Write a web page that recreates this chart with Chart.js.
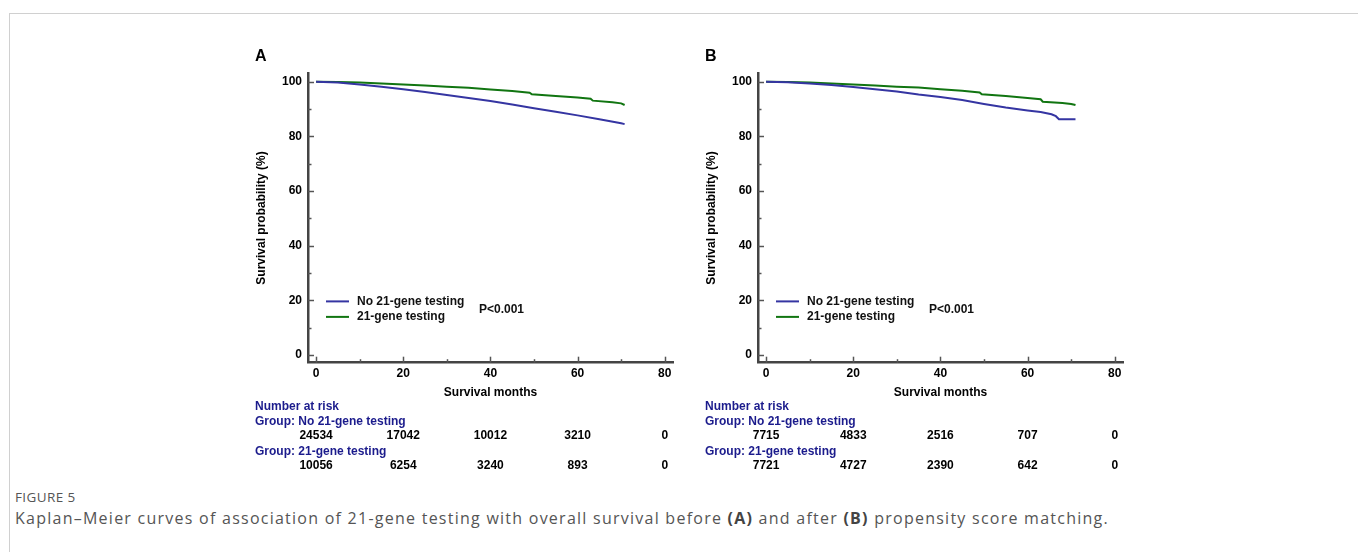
<!DOCTYPE html>
<html>
<head>
<meta charset="utf-8">
<script src="https://cdn.jsdelivr.net/npm/chart.js@4.4.1/dist/chart.umd.min.js"></script>
<style>
  body { margin: 0; background: #fff; width: 1358px; height: 552px; position: relative; overflow: hidden; }
  .frame { position: absolute; left: 9px; top: 13px; width: 1400px; height: 600px; border-top: 1px solid #d0d0d0; border-left: 1px solid #d0d0d0; }
  canvas { position: absolute; }
  #chartA { left: 240px; top: 40px; }
  #chartB { left: 690px; top: 40px; }
  .fig { position: absolute; left: 15px; top: 488px; font: 13.5px "Open Sans", sans-serif; letter-spacing: 0.4px; color: #555; }
  .cap { position: absolute; left: 15px; top: 507px; font: 16px "Open Sans", sans-serif; letter-spacing: 1.25px; color: #555; white-space: nowrap; }
  .cap b { color: #444; }
</style>
</head>
<body>
<div class="frame"></div>
<canvas id="chartA" width="450" height="440"></canvas>
<canvas id="chartB" width="450" height="440"></canvas>
<div class="fig">FIGURE 5</div>
<div class="cap">Kaplan–Meier curves of association of 21-gene testing with overall survival before <b>(A)</b> and after <b>(B)</b> propensity score matching.</div>
<script>
// survival curves (months, survival %)
const noTestMonthsA = [0, 5, 10, 15, 20, 25, 30, 35, 40, 45, 50, 55, 60, 65, 70, 70.8];
const noTestSurvA = [100, 99.7, 99.0, 98.2, 97.3, 96.3, 95.2, 94.1, 93.0, 91.7, 90.3, 89.0, 87.7, 86.3, 84.8, 84.5];
const testMonthsA = [0, 5, 10, 15, 20, 25, 30, 35, 40, 45, 49, 49.5, 55, 60, 63, 63.5, 68, 70, 70.8];
const testSurvA = [100, 99.9, 99.7, 99.4, 99.0, 98.6, 98.2, 97.8, 97.2, 96.6, 96.0, 95.4, 94.8, 94.2, 93.8, 93.1, 92.5, 92.1, 91.5];

const noTestMonthsB = [0, 5, 10, 15, 20, 25, 30, 35, 40, 45, 50, 55, 60, 63, 65.5, 66.5, 67.2, 71];
const noTestSurvB = [100, 99.8, 99.4, 98.8, 98.1, 97.3, 96.4, 95.3, 94.4, 93.3, 91.9, 90.6, 89.5, 88.9, 88.1, 87.4, 86.3, 86.3];
const testMonthsB = [0, 5, 10, 15, 20, 25, 30, 35, 40, 45, 49, 49.5, 55, 60, 63, 63.5, 68, 70, 71];
const testSurvB = [100, 99.9, 99.7, 99.4, 99.0, 98.6, 98.2, 97.9, 97.3, 96.7, 96.1, 95.4, 94.8, 94.1, 93.6, 92.7, 92.2, 91.9, 91.5];

// number at risk table
const riskMonths = [0, 20, 40, 60, 80];
const riskNoTestA = [24534, 17042, 10012, 3210, 0];
const riskTestA = [10056, 6254, 3240, 893, 0];
const riskNoTestB = [7715, 4833, 2516, 707, 0];
const riskTestB = [7721, 4727, 2390, 642, 0];

// ticks
const xTicks = [0, 10, 20, 30, 40, 50, 60, 70, 80];
const yTicks = [0, 10, 20, 30, 40, 50, 60, 70, 80, 90, 100];

const seriesLabels = ['No 21-gene testing', '21-gene testing'];
const BLUE = '#3535a2';
const GREEN = '#117511';
const NAVY = '#1b1b8c';
const FONT = '"Liberation Sans", Arial, sans-serif';

function pts(xs, ys) {
  return xs.map((x, i) => ({ x: x, y: ys[i] }));
}

const decor = {
  id: 'decor',
  afterDraw(chart, args, o) {
    const ctx = chart.ctx;
    const ca = chart.chartArea;
    const xs = chart.scales.x, ys = chart.scales.y;
    ctx.save();
    // inward tick marks
    ctx.strokeStyle = '#555';
    ctx.lineWidth = 1.5;
    xTicks.forEach(v => {
      const len = v % 20 === 0 ? 6 : 3.5;
      const px = Math.round(xs.getPixelForValue(v)) + 0.5;
      ctx.beginPath(); ctx.moveTo(px, ca.bottom); ctx.lineTo(px, ca.bottom - len); ctx.stroke();
    });
    yTicks.forEach(v => {
      const len = v % 20 === 0 ? 6 : 3.5;
      const py = Math.round(ys.getPixelForValue(v)) + 0.5;
      ctx.beginPath(); ctx.moveTo(ca.left, py); ctx.lineTo(ca.left + len, py); ctx.stroke();
    });

    // legend
    ctx.font = 'bold 12px ' + FONT;
    ctx.textBaseline = 'middle';
    ctx.textAlign = 'left';
    const lx = ca.left + 18;
    chart.data.datasets.forEach((ds, i) => {
      const y = ys.getPixelForValue(20) + 1 + i * 15.5;
      ctx.strokeStyle = ds.borderColor;
      ctx.lineWidth = 2;
      ctx.beginPath(); ctx.moveTo(lx, y); ctx.lineTo(lx + 23, y); ctx.stroke();
      ctx.fillStyle = '#111';
      ctx.fillText(ds.label, lx + 31, y);
    });
    ctx.fillText(o.pText, ca.left + 171, ys.getPixelForValue(20) + 9);

    // panel letter
    ctx.font = 'bold 16px ' + FONT;
    ctx.fillStyle = '#000';
    ctx.fillText(o.letter, ca.left - 53, ca.top - 17);

    // number at risk
    const tx = ca.left - 53;
    const b = ca.bottom;
    ctx.font = 'bold 12px ' + FONT;
    ctx.fillStyle = NAVY;
    ctx.fillText('Number at risk', tx, b + 43.5);
    ctx.fillText('Group: ' + seriesLabels[0], tx, b + 59);
    ctx.fillText('Group: ' + seriesLabels[1], tx, b + 88.5);
    ctx.fillStyle = '#000';
    ctx.textAlign = 'center';
    riskMonths.forEach((m, i) => {
      const px = xs.getPixelForValue(m);
      ctx.fillText(String(o.riskNo[i]), px, b + 73);
      ctx.fillText(String(o.riskTest[i]), px, b + 102.5);
    });
    ctx.restore();
  }
};

function makeChart(id, noX, noY, teX, teY, letter, riskNo, riskTest) {
  const c = document.getElementById(id);
  return new Chart(c, {
    type: 'line',
    data: {
      datasets: [
        { label: seriesLabels[0], data: pts(noX, noY), borderColor: BLUE, borderWidth: 2, pointRadius: 0, tension: 0, fill: false },
        { label: seriesLabels[1], data: pts(teX, teY), borderColor: GREEN, borderWidth: 2, pointRadius: 0, tension: 0, fill: false }
      ]
    },
    options: {
      responsive: false,
      animation: false,
      layout: { padding: { left: 0, top: 33.3, right: 17, bottom: 80.3 } },
      plugins: {
        legend: { display: false },
        tooltip: { enabled: false },
        decor: { letter: letter, riskNo: riskNo, riskTest: riskTest, pText: 'P<0.001' }
      },
      scales: {
        x: {
          type: 'linear',
          min: -1.85,
          max: 81.9,
          afterBuildTicks: s => { s.ticks = xTicks.map(v => ({ value: v })); },
          afterFit: s => { s.height = 37; },
          ticks: {
            autoSkip: false, maxRotation: 0, padding: 4, color: '#000',
            font: { family: FONT, size: 12, weight: 'bold' },
            callback: v => (v % 20 === 0 ? v : '')
          },
          grid: { display: false, drawTicks: false },
          border: { display: true, color: '#444', width: 2.5 },
          title: { display: true, text: 'Survival months', color: '#000', font: { family: FONT, size: 12, weight: 'bold' }, padding: { top: 0, bottom: 0 } }
        },
        y: {
          min: -2.8,
          max: 103.1,
          afterBuildTicks: s => { s.ticks = yTicks.map(v => ({ value: v })); },
          afterFit: s => { s.width = 68; },
          ticks: {
            autoSkip: false, padding: 6, color: '#000',
            font: { family: FONT, size: 12, weight: 'bold' },
            callback: v => (v % 20 === 0 ? v : '')
          },
          grid: { display: false, drawTicks: false },
          border: { display: true, color: '#444', width: 2.5 },
          title: { display: true, text: 'Survival probability (%)', color: '#000', font: { family: FONT, size: 12, weight: 'bold' }, padding: { top: 14.5, bottom: 0 } }
        }
      }
    },
    plugins: [decor]
  });
}

makeChart('chartA', noTestMonthsA, noTestSurvA, testMonthsA, testSurvA, 'A', riskNoTestA, riskTestA);
makeChart('chartB', noTestMonthsB, noTestSurvB, testMonthsB, testSurvB, 'B', riskNoTestB, riskTestB);
</script>
</body>
</html>
